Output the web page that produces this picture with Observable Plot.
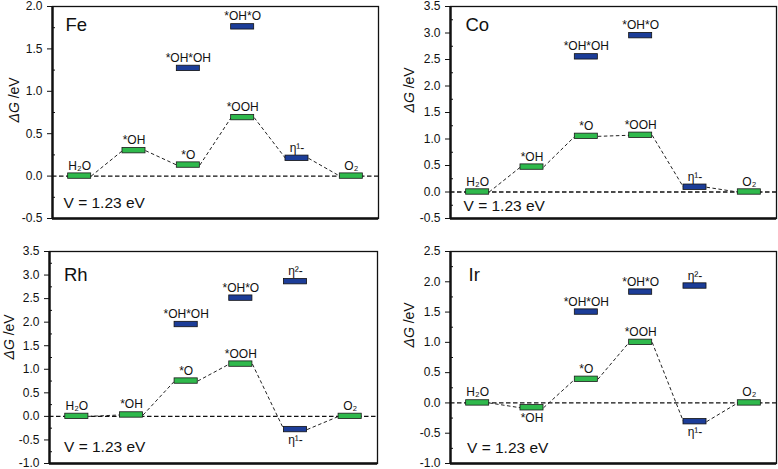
<!DOCTYPE html>
<html><head><meta charset="utf-8">
<script src="https://cdn.jsdelivr.net/npm/d3@7"></script>
<script src="https://cdn.jsdelivr.net/npm/@observablehq/plot@0.6"></script>
<style>
body{margin:0;background:#fff;}
#chart{position:relative;width:778px;height:469px;overflow:hidden;background:#fff;font-family:"Liberation Sans",Arial,sans-serif;}
#chart > div{position:absolute;}
#chart svg{overflow:visible;}
#chart g[aria-label="y-axis tick label"]{font-size:12px;}
</style></head><body><div id="chart"></div>
<script>
// ---- data ----
const steps = ["H₂O", "*OH", "*O", "*OOH", "η¹-", "O₂"];
const blueSteps = ["η¹-"];
const altSteps = ["*OH*OH", "*OH*O", "η²-"];
const altStepPos = [2, 3, 4];
const metals = ["Fe", "Co", "Rh", "Ir"];
const feMain = [0, 0.30, 0.13, 0.69, 0.21, 0];
const feAlt  = [1.27, 1.76, null];
const coMain = [0, 0.47, 1.05, 1.07, 0.09, 0];
const coAlt  = [2.55, 2.95, null];
const rhMain = [0, 0.03, 0.75, 1.11, -0.28, 0];
const rhAlt  = [1.95, 2.51, 2.86];
const irMain = [0, -0.08, 0.39, 1.00, -0.31, 0];
const irAlt  = [1.50, 1.83, 1.93];
const feTicks = [-0.5, 0, 0.5, 1.0, 1.5, 2.0];
const coTicks = [-0.5, 0, 0.5, 1.0, 1.5, 2.0, 2.5, 3.0, 3.5];
const rhTicks = [-1.0, -0.5, 0, 0.5, 1.0, 1.5, 2.0, 2.5, 3.0, 3.5];
const irTicks = [-1.0, -0.5, 0, 0.5, 1.0, 1.5, 2.0, 2.5];
const belowLabels = [[], [], ["η¹-"], ["*OH", "η¹-"]];
const potentialLabel = "V = 1.23 eV";
const yLabel = "ΔG /eV";

const mains = [feMain, coMain, rhMain, irMain];
const alts = [feAlt, coAlt, rhAlt, irAlt];
const tickSets = [feTicks, coTicks, rhTicks, irTicks];

// ---- layout / style ----
const GREEN = "#2fb94c", BLUE = "#1c3d98";
const layouts = [
  {left:0,   top:0,   width:389, height:234, mL:52, mR:11, mT:6,  mB:16, nameDx:13, nameDy:11,   vDx:11,   vDy:-10.5, yOff:38, yDy:10},
  {left:389, top:0,   width:389, height:234, mL:61, mR:2,  mT:6,  mB:16, nameDx:15, nameDy:11,   vDx:13,   vDy:-7.5,  yOff:41, yDy:0},
  {left:0,   top:234, width:389, height:235, mL:49, mR:12, mT:17, mB:6,  nameDx:14.5, nameDy:16.5, vDx:14.5, vDy:-11.5, yOff:40, yDy:2},
  {left:389, top:234, width:389, height:235, mL:61, mR:2,  mT:17, mB:6,  nameDx:18, nameDy:16.5, vDx:16.5, vDy:-10.5, yOff:41, yDy:-10}
];
const half = 0.212;

function panel(k) {
  const L = layouts[k];
  const main = mains[k], alt = alts[k], ticks = tickSets[k];
  const bars = steps.map((s, i) => ({label: s, i, v: main[i], blue: blueSteps.includes(s), below: belowLabels[k].includes(s)}));
  altSteps.forEach((s, j) => { if (alt[j] != null) bars.push({label: s, i: altStepPos[j], v: alt[j], blue: true, below: false}); });
  const path = steps.map((s, i) => ({i, v: main[i]}));
  const links = d3.pairs(path).map(([a, b]) => ({a, b}));
  const minor = d3.pairs(ticks).map(([a, b]) => (a + b) / 2);
  const yDom = [ticks[0], ticks[ticks.length - 1]];
  const svg = Plot.plot({
    width: L.width, height: L.height,
    marginLeft: L.mL, marginRight: L.mR, marginTop: L.mT, marginBottom: L.mB,
    x: {domain: [-0.5, 5.5], axis: null},
    y: {domain: yDom, axis: null},
    style: {fontFamily: '"Liberation Sans", Arial, sans-serif', fontSize: "11.5px", color: "#111", background: "transparent", overflow: "visible"},
    marks: [
      Plot.ruleY([0], {stroke: "#111", strokeWidth: 1.3, strokeDasharray: "4.5,2.5"}),
      Plot.link(links, {x1: d => d.a.i + half, y1: d => d.a.v, x2: d => d.b.i - half, y2: d => d.b.v, stroke: "#222", strokeWidth: 1, strokeDasharray: "3.5,2.5"}),
      Plot.rect(bars.filter(d => !d.blue), {x1: d => d.i - half, x2: d => d.i + half, y1: "v", y2: "v", insetTop: -2.7, insetBottom: -2.7, fill: GREEN, stroke: "#1a1a1a", strokeWidth: 0.8}),
      Plot.rect(bars.filter(d => d.blue), {x1: d => d.i - half, x2: d => d.i + half, y1: "v", y2: "v", insetTop: -2.7, insetBottom: -2.7, fill: BLUE, stroke: "#111", strokeWidth: 0.8}),
      Plot.text(bars.filter(d => !d.below), {x: "i", y: "v", text: "label", lineAnchor: "bottom", dy: -6.5, fontSize: 12, fill: "#111"}),
      Plot.text(bars.filter(d => d.below), {x: "i", y: "v", text: "label", lineAnchor: "top", dy: 6, fontSize: 12, fill: "#111"}),
      Plot.axisY(ticks, {tickSize: 5, tickPadding: 5, tickFormat: d => d.toFixed(1), fontSize: 12, label: null, stroke: "#111", fill: "#111"}),
      Plot.axisY(minor, {tickSize: -3, tickFormat: () => "", label: null, stroke: "#111"}),
      Plot.text([yLabel], {frameAnchor: "left", rotate: -90, dx: -L.yOff, dy: L.yDy, fontSize: 14, fill: "#111"}),
      Plot.frame({stroke: "#111", strokeWidth: 1.3}),
      Plot.ruleX([-0.5], {stroke: "#111", strokeWidth: 2.4}),
      Plot.ruleY([yDom[0]], {stroke: "#111", strokeWidth: 2.4}),
      Plot.text([metals[k]], {frameAnchor: "top-left", dx: L.nameDx, dy: L.nameDy, lineAnchor: "top", textAnchor: "start", fontSize: 18.5, fill: "#111"}),
      Plot.text([potentialLabel], {frameAnchor: "bottom-left", dx: L.vDx, dy: L.vDy, lineAnchor: "bottom", textAnchor: "start", fontSize: 15.5, fill: "#111"})
    ]
  });
  // italic ΔG in the axis title
  svg.querySelectorAll("text").forEach(t => {
    if (t.textContent === yLabel) {
      const target = t.querySelector("tspan") || t;
      target.textContent = "";
      const ns = "http://www.w3.org/2000/svg";
      const a = document.createElementNS(ns, "tspan");
      a.setAttribute("font-style", "italic");
      a.textContent = "ΔG";
      const b = document.createElementNS(ns, "tspan");
      b.textContent = " /eV";
      target.appendChild(a); target.appendChild(b);
    }
  });
  const div = document.createElement("div");
  div.style.left = L.left + "px"; div.style.top = L.top + "px";
  div.style.width = L.width + "px"; div.style.height = L.height + "px";
  div.appendChild(svg);
  document.getElementById("chart").appendChild(div);
}
metals.forEach((m, k) => panel(k));
</script></body></html>
